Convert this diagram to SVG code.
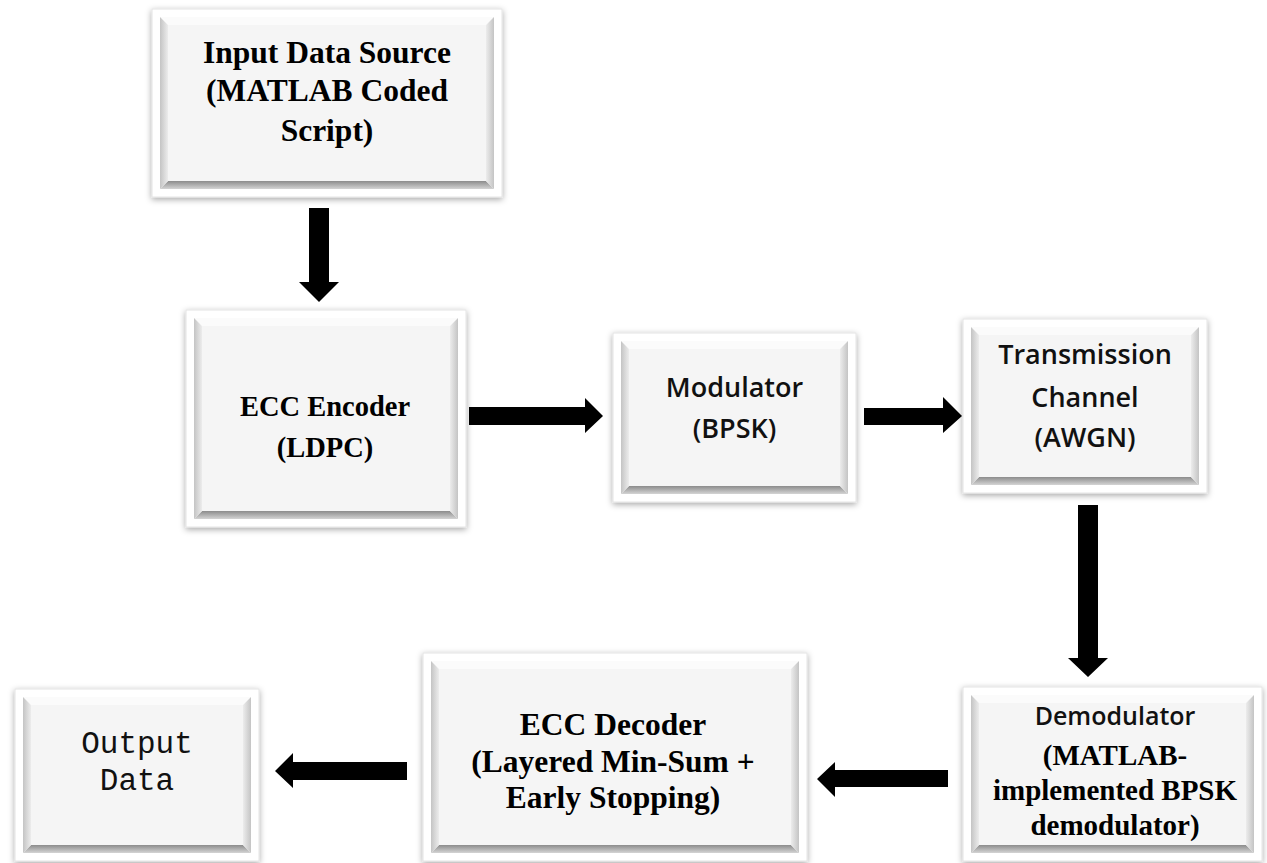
<svg xmlns="http://www.w3.org/2000/svg" width="1267" height="863" viewBox="0 0 1267 863">
<defs>
<filter id="sh" x="-10%" y="-10%" width="120%" height="120%">
<feDropShadow dx="0" dy="2" stdDeviation="3" flood-color="#000" flood-opacity="0.35"/>
</filter>
<linearGradient id="gb" x1="0" y1="0" x2="0" y2="1"><stop offset="0" stop-color="#8c8c8c"/><stop offset="1" stop-color="#d4d4d4"/></linearGradient>
<linearGradient id="gl" x1="0" y1="0" x2="1" y2="0"><stop offset="0" stop-color="#c4c4c4"/><stop offset="1" stop-color="#ececec"/></linearGradient>
<linearGradient id="gr" x1="1" y1="0" x2="0" y2="0"><stop offset="0" stop-color="#c4c4c4"/><stop offset="1" stop-color="#ececec"/></linearGradient>
</defs>
<style>
.frame{fill:#fff;stroke:#e4e4e4;stroke-width:1;filter:url(#sh)}
.face{fill:#f5f5f5}
.top{fill:#fbfbfb}
.bot{fill:url(#gb)}
.lft{fill:url(#gl)}
.rgt{fill:url(#gr)}
.serif{font-family:"Liberation Serif","Times New Roman",serif;font-weight:bold;fill:#000;text-anchor:middle}
.sans{font-family:"Open Sans","Liberation Sans",sans-serif;font-weight:600;fill:#111;text-anchor:middle}
.mono{font-family:"Liberation Mono","Courier New",monospace;fill:#111;text-anchor:middle}
.arr{fill:#000}
</style>

<g id="input">
<rect class="frame" x="152" y="9" width="350" height="188"/>
<polygon class="top" points="160,17 494,17 486,25 168,25"/>
<polygon class="bot" points="168,181 486,181 494,189 160,189"/>
<polygon class="lft" points="160,17 168,25 168,181 160,189"/>
<polygon class="rgt" points="494,17 486,25 486,181 494,189"/>
<rect class="face" x="168" y="25" width="318" height="156"/>
<text class="serif" font-size="31.5" x="327" y="63">Input Data Source</text>
<text class="serif" font-size="31.5" x="327" y="101">(MATLAB Coded</text>
<text class="serif" font-size="31.5" x="327" y="141">Script)</text>
</g>

<g id="encoder">
<rect class="frame" x="186" y="310" width="280" height="217"/>
<polygon class="top" points="194,318 458,318 450,326 202,326"/>
<polygon class="bot" points="202,511 450,511 458,519 194,519"/>
<polygon class="lft" points="194,318 202,326 202,511 194,519"/>
<polygon class="rgt" points="458,318 450,326 450,511 458,519"/>
<rect class="face" x="202" y="326" width="248" height="185"/>
<text class="serif" font-size="28.5" x="325" y="416">ECC Encoder</text>
<text class="serif" font-size="28.5" x="325" y="457">(LDPC)</text>
</g>

<g id="modulator">
<rect class="frame" x="613" y="333" width="243" height="169"/>
<polygon class="top" points="621,341 848,341 840,349 629,349"/>
<polygon class="bot" points="629,486 840,486 848,494 621,494"/>
<polygon class="lft" points="621,341 629,349 629,486 621,494"/>
<polygon class="rgt" points="848,341 840,349 840,486 848,494"/>
<rect class="face" x="629" y="349" width="211" height="137"/>
<text class="sans" font-size="27" x="734.5" y="397">Modulator</text>
<text class="sans" font-size="27" x="734.5" y="438">(BPSK)</text>
</g>

<g id="channel">
<rect class="frame" x="963" y="319" width="244" height="174"/>
<polygon class="top" points="971,327 1199,327 1191,335 979,335"/>
<polygon class="bot" points="979,477 1191,477 1199,485 971,485"/>
<polygon class="lft" points="971,327 979,335 979,477 971,485"/>
<polygon class="rgt" points="1199,327 1191,335 1191,477 1199,485"/>
<rect class="face" x="979" y="335" width="212" height="142"/>
<text class="sans" font-size="27" x="1085" y="364">Transmission</text>
<text class="sans" font-size="27" x="1085" y="407">Channel</text>
<text class="sans" font-size="27" x="1085" y="447">(AWGN)</text>
</g>

<g id="demodulator">
<rect class="frame" x="963" y="687" width="299" height="174"/>
<polygon class="top" points="971,695 1254,695 1246,703 979,703"/>
<polygon class="bot" points="979,845 1246,845 1254,853 971,853"/>
<polygon class="lft" points="971,695 979,703 979,845 971,853"/>
<polygon class="rgt" points="1254,695 1246,703 1246,845 1254,853"/>
<rect class="face" x="979" y="703" width="267" height="142"/>
<text class="sans" font-size="25" x="1115" y="725">Demodulator</text>
<text class="serif" font-size="29" x="1115" y="765">(MATLAB-</text>
<text class="serif" font-size="29" x="1115" y="800">implemented BPSK</text>
<text class="serif" font-size="29" x="1115" y="835">demodulator)</text>
</g>

<g id="decoder">
<rect class="frame" x="423" y="653" width="384" height="208"/>
<polygon class="top" points="431,661 799,661 791,669 439,669"/>
<polygon class="bot" points="439,845 791,845 799,853 431,853"/>
<polygon class="lft" points="431,661 439,669 439,845 431,853"/>
<polygon class="rgt" points="799,661 791,669 791,845 799,853"/>
<rect class="face" x="439" y="669" width="352" height="176"/>
<text class="serif" font-size="31.5" x="613" y="735">ECC Decoder</text>
<text class="serif" font-size="31.5" x="613" y="772">(Layered Min-Sum +</text>
<text class="serif" font-size="31.5" x="613" y="808">Early Stopping)</text>
</g>

<g id="output">
<rect class="frame" x="15" y="689" width="244" height="172"/>
<polygon class="top" points="23,697 251,697 243,705 31,705"/>
<polygon class="bot" points="31,845 243,845 251,853 23,853"/>
<polygon class="lft" points="23,697 31,705 31,845 23,853"/>
<polygon class="rgt" points="251,697 243,705 243,845 251,853"/>
<rect class="face" x="31" y="705" width="212" height="140"/>
<text class="mono" font-size="31" x="137" y="753">Output</text>
<text class="mono" font-size="31" x="137" y="790">Data</text>
</g>

<g id="connectors">
<polygon class="arr" points="309,208 329,208 329,282 339,282 319,302 299,282 309,282"/>
<polygon class="arr" points="469,407 585,407 585,398 603,416 585,433 585,425 469,425"/>
<polygon class="arr" points="864,408 943,408 943,397 962,416 943,433 943,425 864,425"/>
<polygon class="arr" points="1078,505 1098,505 1098,658 1108,658 1088,677 1068,658 1078,658"/>
<polygon class="arr" points="948,770 835,770 835,762 817,779 835,797 835,787 948,787"/>
<polygon class="arr" points="407,762 293,762 293,753 275,771 293,788 293,780 407,780"/>
</g>
</svg>
